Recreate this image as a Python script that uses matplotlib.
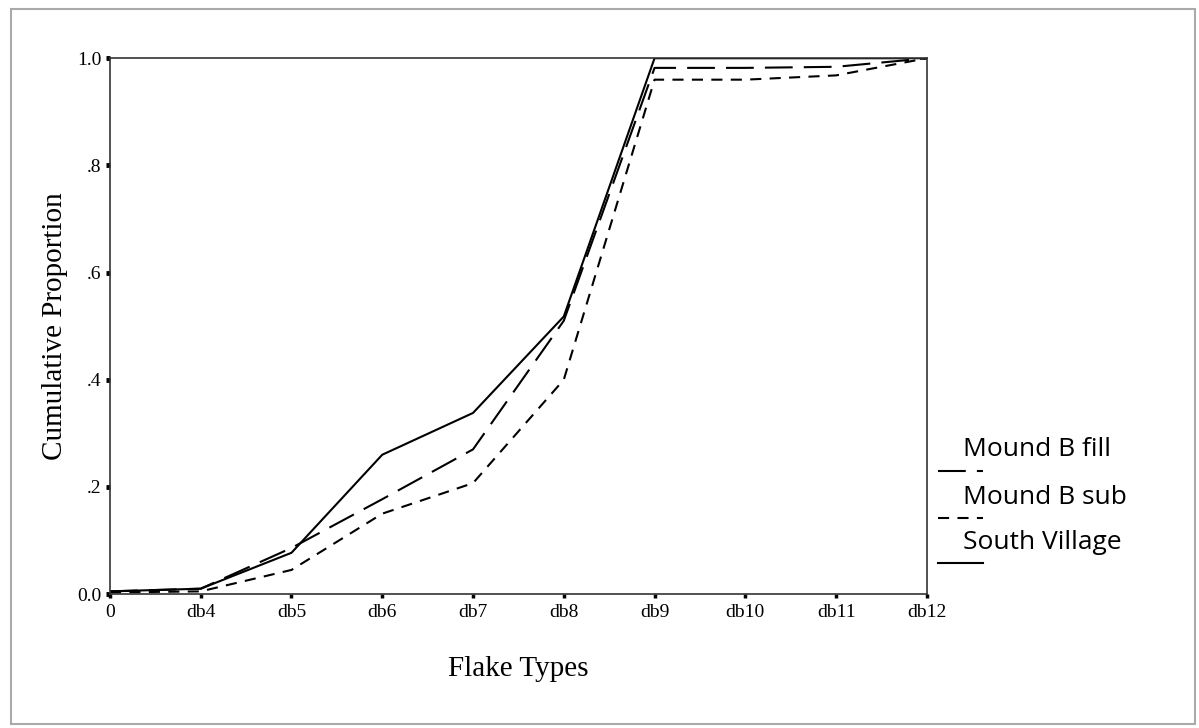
import numpy as np
import matplotlib
matplotlib.use('Agg')
import matplotlib.pyplot as plt
from matplotlib.lines import Line2D
from matplotlib.patches import Rectangle

plt.rcParams['lines.scale_dashes'] = False

flake_types = ['0', 'db4', 'db5', 'db6', 'db7', 'db8', 'db9', 'db10', 'db11', 'db12']
mound_b_fill = [0.005, 0.01, 0.086, 0.177, 0.27, 0.51, 0.982, 0.982, 0.984, 1.0]
mound_b_sub = [0.003, 0.005, 0.045, 0.15, 0.207, 0.40, 0.96, 0.96, 0.968, 1.0]
south_village = [0.005, 0.01, 0.077, 0.26, 0.338, 0.518, 1.0, 1.0, 1.0, 1.0]
y_ticks = [0.0, 0.2, 0.4, 0.6, 0.8, 1.0]
y_labels = ['0.0', '.2', '.4', '.6', '.8', '1.0']

serif = 'Liberation Serif'
sans = 'Open Sans'

fig = plt.figure(figsize=(11.99, 7.28), dpi=100)
ax = fig.add_axes([0.0917, 0.184, 0.6813, 0.736])

x = np.arange(len(flake_types))
ax.plot(x, mound_b_fill, color='black', lw=1.5, dashes=(20, 8))
ax.plot(x, mound_b_sub, color='black', lw=1.5, dashes=(8, 6))
ax.plot(x, south_village, color='black', lw=1.5)

ax.set_xlim(0, len(flake_types) - 1)
ax.set_ylim(0, 1.0)
ax.set_xticks(x)
ax.set_xticklabels(flake_types, fontfamily=serif, fontsize=14)
ax.set_yticks(y_ticks)
ax.set_yticklabels(y_labels, fontfamily=serif, fontsize=14)
ax.tick_params(axis='y', direction='out', length=3, width=3.5, pad=3)
ax.tick_params(axis='x', direction='out', length=3, width=2.5, pad=4)
for s in ax.spines.values():
    s.set_linewidth(1.2)
    s.set_color('#333333')

ax.set_ylabel('Cumulative Proportion', fontfamily=serif, fontsize=21)
ax.set_xlabel('Flake Types', fontfamily=serif, fontsize=21)
ax.yaxis.set_label_coords(-0.051, 0.5)
ax.xaxis.set_label_coords(0.5, -0.116)

# legend: label with sample line below
labels = ['Mound B fill', 'Mound B sub', 'South Village']
styles = [(20, 8), (8, 6), None]
text_y = [0.382, 0.317, 0.255]
for lab, st, ty in zip(labels, styles, text_y):
    fig.text(0.803, ty, lab, fontfamily=sans, fontsize=19, va='center', ha='left')
    ln = Line2D([0.782, 0.820], [ty - 0.029, ty - 0.029], transform=fig.transFigure,
                color='black', lw=1.5)
    if st is not None:
        ln.set_dashes(st)
    fig.add_artist(ln)

fig.add_artist(Rectangle((0.009, 0.005), 0.988, 0.982, transform=fig.transFigure,
                         fill=False, edgecolor='#aaaaaa', lw=1.5))

fig.savefig('out.png', dpi=100)
